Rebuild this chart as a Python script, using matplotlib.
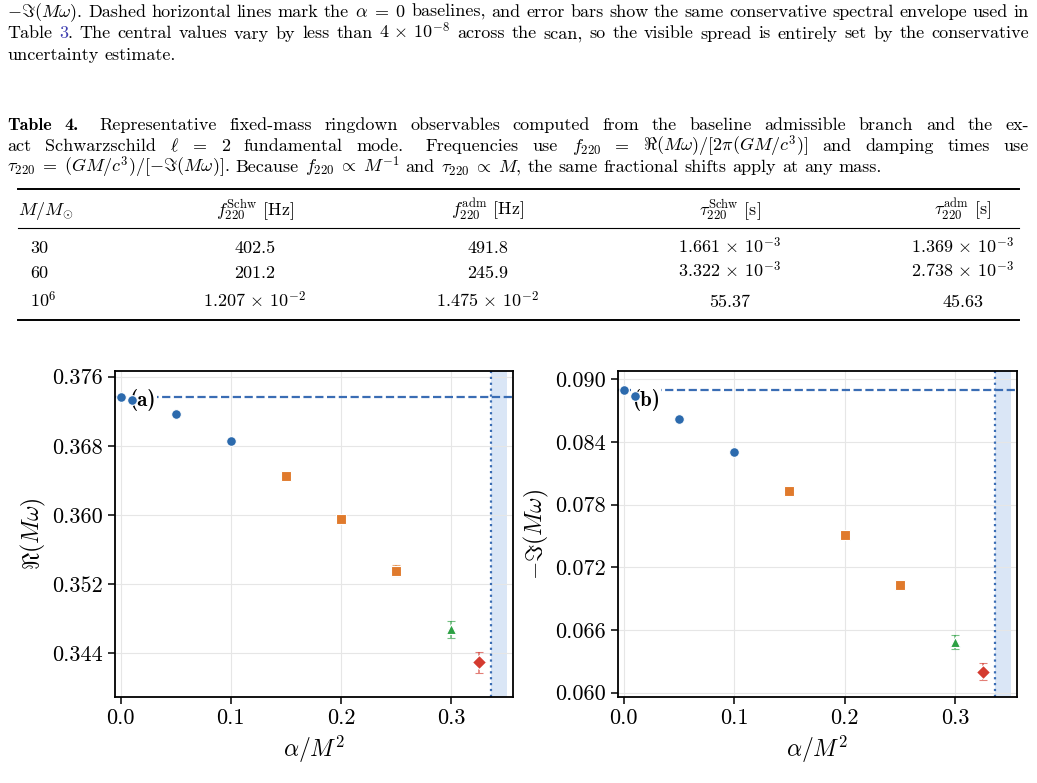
import matplotlib
matplotlib.use("Agg")
import matplotlib.pyplot as plt
from matplotlib.lines import Line2D
from matplotlib.colors import to_rgba

plt.rcParams['font.family'] = 'serif'
plt.rcParams['font.serif'] = ['cmr10']
plt.rcParams['mathtext.fontset'] = 'cm'
plt.rcParams['axes.unicode_minus'] = False
plt.rcParams['axes.formatter.use_mathtext'] = True

# ---- data ----
alpha = [0.0, 0.01, 0.05, 0.10, 0.15, 0.20, 0.25, 0.30, 0.325]
re_mw = [0.37367, 0.37330, 0.37165, 0.36859, 0.36454, 0.35953, 0.35354, 0.34674, 0.34292]
re_err = [0.00005, 0.00005, 0.00006, 0.00008, 0.00012, 0.00018, 0.00064, 0.00095, 0.00120]
im_mw = [0.08896, 0.08843, 0.08620, 0.08304, 0.07934, 0.07510, 0.07031, 0.06482, 0.06200]
im_err = [0.00003, 0.00003, 0.00004, 0.00005, 0.00008, 0.00012, 0.00020, 0.00067, 0.00083]
re_base = 0.37367
im_base = 0.08896
alpha_max = 0.336
alpha_edge = 0.351

# marker groups: indices, marker, colour, size
groups = [
    ([0, 1, 2, 3], 'o', '#2c6aad', 7),
    ([4, 5, 6], 's', '#e07a2c', 7),
    ([7], '^', '#2ca043', 7),
    ([8], 'D', '#d43a2f', 7.5),
]

table_mass = ['30', '60', r'$10^6$']
table_f_schw = ['402.5', '201.2', r'$1.207\,\times\,10^{-2}$']
table_f_adm = ['491.8', '245.9', r'$1.475\,\times\,10^{-2}$']
table_tau_schw = [r'$1.661\,\times\,10^{-3}$', r'$3.322\,\times\,10^{-3}$', '55.37']
table_tau_adm = [r'$1.369\,\times\,10^{-3}$', r'$2.738\,\times\,10^{-3}$', '45.63']
table_head = [r'$M/M_{\odot}$', r'$f_{220}^{\mathrm{Schw}}$ [Hz]', r'$f_{220}^{\mathrm{adm}}$ [Hz]',
              r'$\tau_{220}^{\mathrm{Schw}}$ [s]', r'$\tau_{220}^{\mathrm{adm}}$ [s]']

W, H = 1037, 783
fig = plt.figure(figsize=(W / 100, H / 100), dpi=100)
rend = fig.canvas.get_renderer()
FS = 13
BOLD = {'family': 'cmb10'}
LINK = {'color': '#3c3cb0'}


def put_words(words, y, x0, x1=None, size=FS, extra=None):
    extra = extra or {}
    items = []
    for w in words:
        pieces = w if isinstance(w, list) else [(w, {})]
        arts = [fig.text(0, 1 - y / H, t, fontsize=size, va='baseline', ha='left', **kw)
                for t, kw in pieces]
        ws = [a.get_window_extent(rend).width for a in arts]
        items.append((arts, ws))
    total = sum(sum(ws) for _, ws in items) + sum(extra.values())
    if x1 is None:
        gap = size * 0.333 * 100 / 72
    else:
        gap = (x1 - x0 - total) / (len(items) - 1)
    x = x0
    for k, (arts, ws) in enumerate(items):
        for a, w in zip(arts, ws):
            a.set_x(x / W)
            x += w
        x += gap + extra.get(k, 0)


def hrule(y, lw):
    fig.add_artist(Line2D([18 / W, 1019 / W], [1 - y / H] * 2, color='black', lw=lw,
                          transform=fig.transFigure))


XL, XR = 7, 1029

# ---- paragraph above ----
put_words([r"$-\Im(M\omega)$.", "Dashed", "horizontal", "lines", "mark", "the", r"$\alpha\;=\;0$",
           "baselines,", "and", "error", "bars", "show", "the", "same", "conservative", "spectral",
           "envelope", "used", "in"], 17, XL, XR)
put_words([[("Table", {})], [("3", LINK), (".", {})], "The", "central", "values", "vary", "by", "less",
           "than", r"$4\,\times\,10^{-8}$", "across", "the", "scan,", "so", "the", "visible", "spread",
           "is", "entirely", "set", "by", "the", "conservative"], 38.5, XL, XR)
put_words(["uncertainty", "estimate."], 60, XL)

# ---- table caption ----
put_words([[("Table", BOLD)], [("4.", BOLD)], "Representative", "fixed-mass", "ringdown", "observables",
           "computed", "from", "the", "baseline", "admissible", "branch", "and", "the", "ex-"],
          130, XL, XR, extra={1: 8})
put_words(["act", "Schwarzschild", r"$\ell$", "=", "2", "fundamental", "mode.", "Frequencies", "use",
           r"$f_{220}$", "=", r"$\Re(M\omega)/[2\pi(GM/c^3)]$", "and", "damping", "times", "use"],
          151, XL, XR, extra={6: 8})
put_words([r"$\tau_{220}\;=\;(GM/c^3)/[-\Im(M\omega)]$.", "Because", r"$f_{220}\;\propto\;M^{-1}$", "and",
           r"$\tau_{220}\;\propto\;M$,", "the", "same", "fractional", "shifts", "apply", "at", "any",
           "mass."], 172, XL)

# ---- table ----
hrule(189, 1.4)
hrule(227.5, 0.8)
hrule(320, 1.4)
col_x = [18, 255, 488, 730, 963]
for j, h in enumerate(table_head):
    fig.text(col_x[j] / W, 1 - 215 / H, h, fontsize=FS, va='baseline',
             ha='left' if j == 0 else 'center')
cols = [table_mass, table_f_schw, table_f_adm, table_tau_schw, table_tau_adm]
row_y = [253, 277.5, 307]
for j, col in enumerate(cols):
    for i, v in enumerate(col):
        x = 30 if j == 0 else col_x[j]
        fig.text(x / W, 1 - row_y[i] / H, v, fontsize=FS, va='baseline',
                 ha='left' if j == 0 else 'center')

# ---- panels ----
axL = fig.add_axes([115 / W, 1 - 697 / H, 398 / W, 326 / H])
axR = fig.add_axes([618 / W, 1 - 697 / H, 399 / W, 326 / H])


def panel(ax, vals, errs, base, ylim, yticks, ylabel, tag):
    ax.axvspan(alpha_max, alpha_edge, color='#dae6f6', lw=0, zorder=0)
    ax.axvline(alpha_max, color='#3a6db4', ls=':', lw=1.6, zorder=1)
    ax.axhline(base, color='#3a6db4', ls='--', lw=1.6, zorder=1)
    for idx, m, c, ms in groups:
        ax.errorbar([alpha[i] for i in idx], [vals[i] for i in idx],
                    yerr=[errs[i] for i in idx], fmt=m, color=c, ms=ms, mec='white', mew=0.8,
                    ecolor=to_rgba(c, 0.65), elinewidth=1.2, capsize=3, capthick=1.2, zorder=4)
    ax.text(0.035, 0.945, tag, transform=ax.transAxes, family='cmb10', fontsize=15, va='top',
            bbox=dict(fc='white', ec='none', pad=1.0), zorder=3)
    ax.set_xlim(-0.005, 0.356)
    ax.set_ylim(*ylim)
    ax.set_xticks([0.0, 0.1, 0.2, 0.3])
    ax.set_xticklabels(['0.0', '0.1', '0.2', '0.3'])
    ax.set_yticks(yticks)
    ax.set_yticklabels(['%.3f' % t for t in yticks])
    ax.tick_params(labelsize=16, direction='out', length=5, width=1.1)
    ax.grid(True, color='#e6e6e6', lw=0.8)
    ax.set_axisbelow(True)
    for s in ax.spines.values():
        s.set_linewidth(1.3)
    ax.set_xlabel(r'$\alpha/M^2$', fontsize=17)
    ax.set_ylabel(ylabel, fontsize=17, labelpad=3)


panel(axL, re_mw, re_err, re_base, (0.33891, 0.37666),
      [0.344, 0.352, 0.360, 0.368, 0.376], r'$\Re(M\omega)$', '(a)')
panel(axR, im_mw, im_err, im_base, (0.05959, 0.0908),
      [0.060, 0.066, 0.072, 0.078, 0.084, 0.090], r'$-\Im(M\omega)$', '(b)')

fig.savefig('out.png', dpi=100)
